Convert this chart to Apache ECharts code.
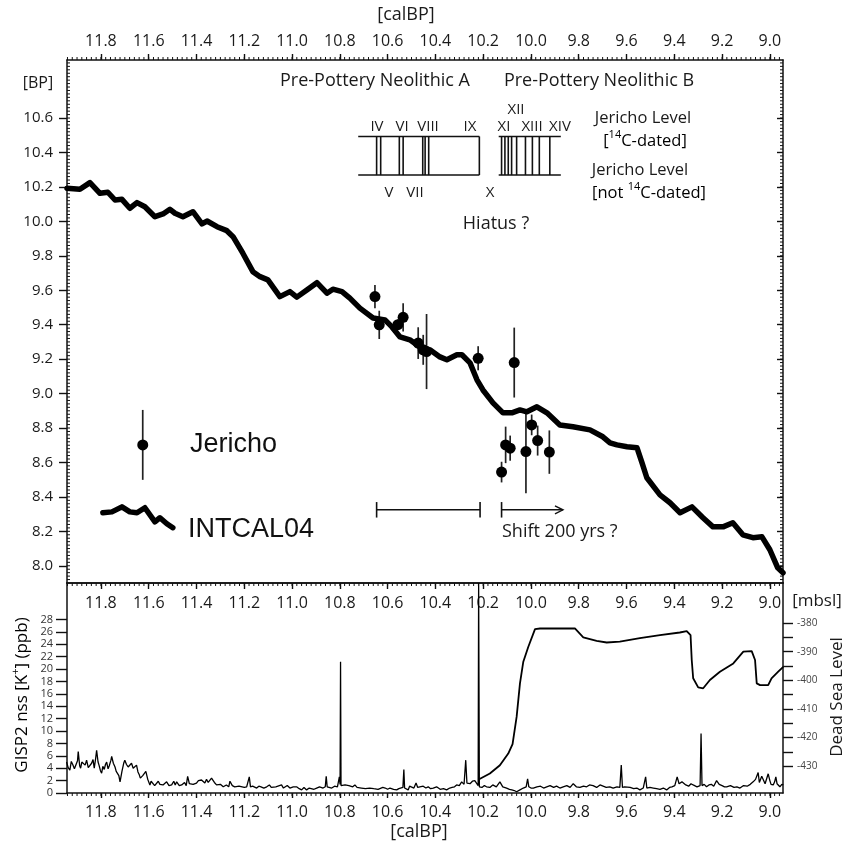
<!DOCTYPE html>
<html><head><meta charset="utf-8">
<script src="https://cdn.jsdelivr.net/npm/echarts@6/dist/echarts.min.js"></script>
<style>html,body{margin:0;padding:0;background:#fff}#c{width:850px;height:845px}</style>
</head><body><div id="c"></div>
<script>
// ---------------- data ----------------
const calTicks = [9.0, 9.2, 9.4, 9.6, 9.8, 10.0, 10.2, 10.4, 10.6, 10.8, 11.0, 11.2, 11.4, 11.6, 11.8];
const bpTicks = [8.0, 8.2, 8.4, 8.6, 8.8, 9.0, 9.2, 9.4, 9.6, 9.8, 10.0, 10.2, 10.4, 10.6];
const kTicks = [0, 2, 4, 6, 8, 10, 12, 14, 16, 18, 20, 22, 24, 26, 28];
const dsTicks = [-430, -420, -410, -400, -390, -380];
const dsMinorTicks = [-430, -425, -420, -415, -410, -405, -400, -395, -390, -385, -380];

// INTCAL04 calibration curve [calBP (ka), BP (ka)]
const intcal04 = [[11.942,10.192],[11.888,10.186],[11.846,10.225],[11.804,10.163],[11.771,10.169],[11.741,10.124],[11.712,10.128],[11.679,10.076],[11.649,10.109],[11.616,10.085],[11.574,10.027],[11.540,10.043],[11.511,10.070],[11.490,10.047],[11.457,10.027],[11.415,10.056],[11.377,9.985],[11.356,10.002],[11.314,9.969],[11.273,9.946],[11.247,9.911],[11.206,9.815],[11.164,9.708],[11.134,9.679],[11.101,9.660],[11.051,9.563],[11.009,9.592],[10.980,9.560],[10.938,9.602],[10.896,9.644],[10.854,9.583],[10.829,9.606],[10.791,9.592],[10.758,9.554],[10.716,9.496],[10.661,9.439],[10.611,9.428],[10.582,9.387],[10.548,9.329],[10.507,9.312],[10.465,9.271],[10.423,9.254],[10.381,9.213],[10.352,9.196],[10.310,9.225],[10.289,9.225],[10.255,9.178],[10.226,9.080],[10.201,9.021],[10.159,8.946],[10.117,8.888],[10.080,8.888],[10.046,8.905],[10.017,8.894],[9.975,8.923],[9.933,8.888],[9.879,8.818],[9.824,8.807],[9.753,8.789],[9.699,8.749],[9.669,8.714],[9.640,8.702],[9.598,8.691],[9.556,8.685],[9.535,8.598],[9.515,8.511],[9.460,8.412],[9.418,8.366],[9.376,8.308],[9.326,8.342],[9.280,8.279],[9.238,8.226],[9.196,8.226],[9.155,8.250],[9.113,8.180],[9.071,8.163],[9.033,8.168],[9.000,8.093],[8.967,7.988],[8.945,7.959]];

// Jericho 14C dates [calBP, BP, error]
const jericho = [[10.653,9.563,0.068],[10.635,9.399,0.082],[10.557,9.400,0.030],[10.535,9.443,0.082],[10.472,9.293,0.092],[10.451,9.254,0.087],[10.437,9.244,0.218],[10.221,9.205,0.070],[10.070,9.180,0.203],[10.123,8.544,0.060],[10.106,8.702,0.106],[10.087,8.683,0.073],[10.021,8.663,0.242],[9.997,8.818,0.060],[9.972,8.727,0.087],[9.923,8.660,0.126]];

// legend samples
const legendPoint = [[11.625, 8.702, 0.203]];
const legendCurve = [[11.792,8.308],[11.754,8.313],[11.712,8.342],[11.679,8.313],[11.649,8.308],[11.616,8.337],[11.574,8.255],[11.553,8.279],[11.524,8.244],[11.499,8.221]];

// Jericho levels (calBP positions of level boundaries)
const levelsA = [10.646, 10.629, 10.551, 10.535, 10.453, 10.443, 10.428, 10.216];
const levelsB = [10.123, 10.109, 10.095, 10.081, 10.060, 10.023, 9.994, 9.965, 9.921];
const boxA = [10.723, 10.216];
const boxB = [10.135, 9.875];
const levelBand = [10.269, 10.493];
const rangeBar = [10.646, 10.213];
const shiftArrow = [10.123, 9.866];
const barLevel = 8.325;

// GISP2 nss K+ (ppb)
const gisp2 = [[11.944,5.0],[11.937,4.1],[11.930,3.7],[11.924,5.1],[11.918,4.6],[11.911,3.9],[11.905,4.2],[11.898,5.2],[11.895,6.7],[11.889,4.4],[11.885,4.0],[11.880,5.0],[11.875,4.8],[11.866,4.5],[11.860,5.3],[11.853,4.1],[11.848,4.3],[11.839,4.8],[11.833,5.4],[11.828,4.0],[11.822,5.6],[11.818,6.9],[11.812,5.0],[11.808,4.5],[11.802,3.6],[11.797,3.2],[11.792,4.3],[11.786,3.8],[11.781,4.6],[11.776,5.0],[11.770,3.9],[11.765,4.4],[11.758,5.3],[11.755,5.9],[11.748,4.8],[11.741,4.2],[11.736,3.5],[11.730,3.3],[11.725,2.8],[11.720,1.8],[11.712,3.5],[11.704,4.9],[11.700,5.3],[11.693,4.6],[11.686,4.2],[11.679,3.9],[11.672,4.8],[11.665,4.0],[11.658,3.7],[11.651,4.5],[11.645,3.4],[11.640,3.0],[11.635,2.4],[11.630,2.1],[11.625,2.8],[11.620,2.6],[11.612,3.5],[11.604,2.2],[11.595,1.3],[11.590,1.9],[11.585,1.6],[11.575,1.2],[11.567,1.0],[11.560,1.9],[11.553,1.4],[11.547,1.1],[11.540,1.3],[11.532,1.5],[11.525,1.8],[11.515,1.2],[11.504,1.3],[11.495,1.9],[11.489,1.3],[11.483,1.8],[11.472,1.2],[11.462,1.3],[11.450,1.7],[11.443,1.2],[11.437,2.7],[11.430,1.5],[11.422,1.2],[11.414,1.4],[11.400,1.6],[11.392,2.0],[11.386,1.8],[11.379,2.1],[11.372,2.0],[11.365,1.6],[11.358,2.2],[11.351,1.7],[11.345,1.8],[11.337,2.4],[11.325,1.7],[11.316,1.3],[11.308,1.1],[11.300,1.4],[11.288,1.0],[11.275,1.3],[11.265,1.0],[11.260,1.9],[11.250,1.2],[11.240,1.0],[11.232,0.8],[11.222,1.1],[11.215,1.0],[11.200,0.9],[11.190,1.0],[11.183,1.1],[11.179,2.6],[11.174,1.0],[11.165,1.1],[11.148,0.8],[11.139,1.1],[11.130,1.0],[11.118,0.8],[11.106,1.0],[11.095,1.3],[11.087,0.9],[11.079,0.8],[11.068,1.0],[11.060,1.3],[11.044,1.3],[11.036,0.8],[11.030,1.0],[11.020,1.2],[11.009,0.8],[10.995,1.0],[10.981,1.0],[10.970,0.7],[10.960,0.5],[10.950,0.9],[10.939,0.5],[10.928,0.8],[10.920,0.9],[10.908,0.6],[10.897,0.8],[10.885,1.0],[10.870,0.8],[10.861,1.0],[10.857,2.7],[10.853,1.0],[10.845,0.8],[10.834,0.8],[10.822,1.1],[10.810,1.0],[10.804,1.3],[10.802,2.6],[10.799,1.4],[10.797,21.2],[10.795,1.2],[10.787,1.1],[10.778,1.3],[10.771,1.0],[10.762,1.2],[10.755,1.3],[10.746,1.0],[10.737,1.3],[10.728,0.9],[10.720,1.0],[10.710,0.8],[10.702,1.0],[10.693,0.7],[10.685,0.6],[10.675,0.8],[10.667,0.5],[10.658,0.7],[10.650,0.8],[10.640,0.6],[10.632,0.8],[10.620,0.9],[10.610,0.8],[10.600,0.6],[10.590,0.8],[10.582,0.9],[10.575,0.6],[10.568,0.8],[10.562,0.5],[10.553,0.7],[10.545,0.6],[10.536,0.9],[10.532,3.8],[10.529,0.8],[10.524,0.6],[10.514,0.5],[10.508,1.1],[10.500,1.0],[10.490,0.8],[10.481,1.6],[10.474,0.9],[10.465,1.0],[10.458,1.2],[10.451,1.1],[10.440,0.8],[10.430,1.0],[10.420,0.7],[10.409,0.8],[10.395,1.0],[10.380,0.6],[10.366,0.7],[10.353,0.5],[10.340,0.8],[10.330,0.9],[10.320,1.0],[10.311,1.3],[10.300,1.2],[10.290,1.8],[10.280,1.4],[10.273,5.3],[10.268,1.6],[10.261,1.3],[10.255,1.5],[10.245,1.9],[10.235,2.0],[10.228,1.6],[10.221,1.2],[10.219,33.9],[10.216,1.0],[10.205,0.9],[10.195,1.2],[10.186,1.0],[10.172,0.9],[10.160,1.3],[10.145,1.0],[10.130,1.8],[10.118,1.0],[10.102,0.8],[10.090,0.6],[10.080,0.5],[10.070,0.4],[10.060,0.2],[10.046,0.5],[10.032,0.8],[10.020,1.0],[10.014,2.3],[10.009,1.0],[10.000,0.8],[9.990,0.8],[9.975,1.0],[9.960,1.1],[9.947,0.8],[9.934,1.0],[9.920,1.2],[9.905,0.9],[9.893,1.1],[9.879,0.8],[9.865,1.0],[9.850,1.2],[9.836,0.9],[9.823,1.5],[9.810,1.0],[9.795,0.9],[9.780,1.1],[9.767,1.0],[9.755,1.3],[9.740,1.2],[9.725,0.9],[9.711,1.3],[9.698,1.1],[9.685,0.9],[9.670,1.0],[9.656,0.8],[9.640,1.0],[9.628,0.9],[9.622,4.5],[9.617,0.9],[9.608,1.0],[9.600,0.8],[9.585,0.9],[9.570,0.7],[9.557,0.8],[9.544,0.5],[9.530,0.8],[9.523,1.0],[9.520,2.6],[9.515,0.8],[9.502,0.9],[9.488,0.8],[9.474,0.7],[9.460,0.6],[9.446,0.8],[9.432,0.5],[9.420,0.9],[9.410,1.0],[9.398,1.2],[9.388,2.6],[9.380,1.5],[9.375,1.4],[9.368,1.8],[9.363,2.0],[9.352,1.3],[9.340,1.1],[9.330,1.5],[9.321,1.3],[9.305,1.0],[9.292,1.2],[9.288,9.6],[9.284,1.2],[9.275,1.4],[9.265,1.0],[9.255,1.3],[9.245,1.4],[9.235,1.1],[9.223,2.0],[9.212,1.4],[9.200,1.2],[9.190,1.0],[9.181,1.0],[9.165,1.2],[9.150,0.9],[9.138,1.0],[9.125,0.8],[9.110,1.2],[9.095,1.1],[9.082,1.4],[9.070,1.8],[9.060,2.2],[9.049,3.3],[9.044,1.7],[9.040,1.9],[9.034,2.7],[9.028,2.6],[9.020,1.5],[9.015,1.6],[9.007,3.1],[9.000,2.0],[8.995,1.4],[8.986,1.3],[8.980,1.8],[8.975,2.6],[8.970,1.5],[8.965,1.2],[8.958,1.0],[8.950,1.4],[8.944,1.3]];

// Dead Sea level (m below sea level)
const deadSea = [[10.219,-434.7],[10.172,-432.6],[10.130,-429.7],[10.095,-425.6],[10.077,-422.3],[10.060,-412.8],[10.046,-401.1],[10.032,-393.5],[10.011,-388.3],[9.983,-382.1],[9.962,-381.9],[9.816,-381.9],[9.781,-385.0],[9.725,-386.2],[9.683,-386.8],[9.628,-386.5],[9.544,-385.3],[9.460,-384.2],[9.377,-383.3],[9.348,-382.8],[9.332,-384.2],[9.327,-392.9],[9.321,-399.3],[9.300,-402.5],[9.279,-402.8],[9.251,-399.9],[9.209,-397.0],[9.153,-394.1],[9.111,-390.0],[9.076,-389.8],[9.062,-392.9],[9.055,-401.1],[9.041,-401.7],[9.007,-401.7],[8.993,-399.3],[8.965,-397.0],[8.944,-395.3]];

// ---------------- chart ----------------
const X_MIN = 8.945, X_MAX = 11.942;
function range(a, b, s) { const r = []; for (let i = 0; a + i * s <= b + 1e-9; i++) r.push(Math.round((a + i * s) * 1000) / 1000); return r; }
const xMinor = range(8.96, 11.94, 0.02);
const yMinorUp = range(7.92, 10.92, 0.02);

const TICK = '#111';
const FONT = '"Open Sans", "Noto Sans", sans-serif';
const AL = { show: true, onZero: false, lineStyle: { color: '#111', width: 1.5 } };
const fmt1 = v => Number(v).toFixed(1);
const Y_UP = [7.90, 10.937];
const Y_K = [0, 33.9];
const Y_DS = [-439.4, -366];

function xAx(o) {
  return Object.assign({ type: 'value', min: X_MIN, max: X_MAX, inverse: true, splitLine: { show: false },
    axisLine: AL, axisLabel: { show: false } }, o);
}
function yAx(o) { return Object.assign({ type: 'value', splitLine: { show: false }, axisLine: AL, axisLabel: { show: false } }, o); }
function majTick(vals, len, inside) { return { show: true, customValues: vals, length: len, inside: !!inside, lineStyle: { color: TICK, width: 1.4 } }; }

// minor tick rows [x, y, dxPx, dyPx]
const minorUpper = [], minorLower = [];
xMinor.forEach(v => minorUpper.push([v, Y_UP[1], 0, -3]));
yMinorUp.forEach(v => { minorUpper.push([X_MAX, v, 3, 0]); minorUpper.push([X_MIN, v, -3, 0]); });
xMinor.forEach(v => { minorLower.push([v, Y_K[1], 0, 3]); minorLower.push([v, Y_K[0], 0, 3]); });
function tickSeries(rows, xi, yi) {
  return {
    type: 'custom', xAxisIndex: xi, yAxisIndex: yi, silent: true, data: rows,
    renderItem: function (p, api) {
      const a = api.coord([api.value(0), api.value(1)]);
      return { type: 'line', shape: { x1: a[0], y1: a[1], x2: a[0] + api.value(2), y2: a[1] + api.value(3) }, style: { stroke: TICK, lineWidth: 1 } };
    }
  };
}

// annotation segments [x1,y1,x2,y2]
const segs = [];
segs.push([boxA[0], levelBand[1], boxA[1], levelBand[1]]);
segs.push([boxA[0], levelBand[0], boxA[1], levelBand[0]]);
levelsA.forEach(v => segs.push([v, levelBand[0], v, levelBand[1]]));
segs.push([boxB[0], levelBand[1], boxB[1], levelBand[1]]);
segs.push([boxB[0], levelBand[0], boxB[1], levelBand[0]]);
levelsB.forEach(v => segs.push([v, levelBand[0], v, levelBand[1]]));
segs.push([rangeBar[0], barLevel, rangeBar[1], barLevel]);
segs.push([rangeBar[0], barLevel - 0.045, rangeBar[0], barLevel + 0.045]);
segs.push([rangeBar[1], barLevel - 0.045, rangeBar[1], barLevel + 0.045]);
segs.push([shiftArrow[0], barLevel - 0.045, shiftArrow[0], barLevel + 0.045]);

function errSeries(src) {
  return {
    type: 'custom', xAxisIndex: 0, yAxisIndex: 0, silent: true,
    data: src.map(d => [d[0], d[1] - d[2], d[1] + d[2]]),
    renderItem: (p, api) => {
      const a = api.coord([api.value(0), api.value(1)]);
      const b = api.coord([api.value(0), api.value(2)]);
      return { type: 'line', shape: { x1: a[0], y1: a[1], x2: b[0], y2: b[1] }, style: { stroke: '#222', lineWidth: 1.7 } };
    }
  };
}

function T(x, y, text, size, extra) {
  return Object.assign({
    type: 'text', x: x, y: y, silent: true,
    style: Object.assign({ text: text, font: size + 'px ' + FONT, fill: '#1a1a1a', align: 'center', verticalAlign: 'middle', textAlign: 'center', textVerticalAlign: 'middle' }, (extra && extra.style) || {})
  }, extra && extra.rotation !== undefined ? { rotation: extra.rotation } : {});
}
const supRich = (size) => ({
  n: { fontSize: size, fontFamily: FONT, color: '#1a1a1a' },
  s: { fontSize: Math.round(size * 0.66), fontFamily: FONT, color: '#1a1a1a', padding: [0, 0, Math.round(size * 0.7), 0] }
});
function R(x, y, text, size, rot) {
  const o = { type: 'text', x: x, y: y, silent: true, style: { text: text, rich: supRich(size), align: 'center', verticalAlign: 'middle', textAlign: 'center', textVerticalAlign: 'middle' } };
  if (rot !== undefined) o.rotation = rot;
  return o;
}
const BIG = '27px "Liberation Sans", Arial, sans-serif';
const lab = (vals, extra) => Object.assign({ show: true, customValues: vals, color: '#1a1a1a', fontFamily: FONT }, extra);

const option = {
  animation: false,
  backgroundColor: '#fff',
  grid: [
    { left: 67, right: 67, top: 60, height: 523 },
    { left: 67, right: 67, top: 583, height: 210 }
  ],
  xAxis: [
    xAx({ gridIndex: 0, position: 'top', axisTick: majTick(calTicks, 6), axisLabel: lab(calTicks, { formatter: fmt1, margin: 11, fontSize: 16 }) }),
    xAx({ gridIndex: 0, position: 'bottom', axisTick: { show: false } }),
    xAx({ gridIndex: 1, position: 'top', axisTick: majTick(calTicks, 6, true), axisLabel: lab(calTicks, { inside: true, formatter: fmt1, margin: 12, fontSize: 16 }) }),
    xAx({ gridIndex: 1, position: 'bottom', axisTick: majTick(calTicks, 5), axisLabel: lab(calTicks, { formatter: fmt1, margin: 11, fontSize: 16 }) })
  ],
  yAxis: [
    yAx({ gridIndex: 0, position: 'left', min: Y_UP[0], max: Y_UP[1], axisTick: majTick(bpTicks, 8), axisLabel: lab(bpTicks, { formatter: fmt1, margin: 14, fontSize: 15 }) }),
    yAx({ gridIndex: 0, position: 'right', min: Y_UP[0], max: Y_UP[1], axisTick: majTick(bpTicks, 6, true) }),
    yAx({ gridIndex: 1, position: 'left', min: Y_K[0], max: Y_K[1], axisTick: majTick(kTicks, 11), axisLabel: lab(kTicks, { margin: 14, fontSize: 11, color: '#333' }) }),
    yAx({ gridIndex: 1, position: 'right', min: Y_DS[0], max: Y_DS[1], axisTick: majTick(dsMinorTicks, 10), axisLabel: lab(dsTicks, { margin: 14, fontSize: 10, color: '#444' }) })
  ],
  series: [
    { type: 'line', name: 'INTCAL04', xAxisIndex: 0, yAxisIndex: 0, data: intcal04, showSymbol: false, symbol: 'none',
      lineStyle: { color: '#000', width: 5.5, join: 'round', cap: 'round' } },
    { type: 'line', name: 'legendCurve', xAxisIndex: 0, yAxisIndex: 0, data: legendCurve, showSymbol: false, symbol: 'none',
      lineStyle: { color: '#000', width: 5.5, join: 'round', cap: 'round' } },
    errSeries(jericho),
    errSeries(legendPoint),
    { type: 'scatter', name: 'Jericho', xAxisIndex: 0, yAxisIndex: 0, z: 4, symbolSize: 11,
      data: jericho.map(d => [d[0], d[1]]), itemStyle: { color: '#000', opacity: 1 } },
    { type: 'scatter', name: 'legendPoint', xAxisIndex: 0, yAxisIndex: 0, z: 4, symbolSize: 11,
      data: legendPoint.map(d => [d[0], d[1]]), itemStyle: { color: '#000', opacity: 1 } },
    { type: 'custom', name: 'annotations', xAxisIndex: 0, yAxisIndex: 0, silent: true, data: segs,
      renderItem: (p, api) => {
        const a = api.coord([api.value(0), api.value(1)]);
        const b = api.coord([api.value(2), api.value(3)]);
        return { type: 'line', shape: { x1: a[0], y1: a[1], x2: b[0], y2: b[1] }, style: { stroke: '#111', lineWidth: 1.6 } };
      } },
    { type: 'custom', name: 'arrow', xAxisIndex: 0, yAxisIndex: 0, silent: true, data: [[shiftArrow[0], barLevel, shiftArrow[1], barLevel]],
      renderItem: (p, api) => {
        const a = api.coord([api.value(0), api.value(1)]);
        const b = api.coord([api.value(2), api.value(3)]);
        return { type: 'group', children: [
          { type: 'line', shape: { x1: a[0], y1: a[1], x2: b[0], y2: b[1] }, style: { stroke: '#111', lineWidth: 1.6 } },
          { type: 'polyline', shape: { points: [[b[0] - 8, b[1] - 4], [b[0], b[1]], [b[0] - 8, b[1] + 4]] }, style: { stroke: '#111', lineWidth: 1.4, fill: null } }
        ] };
      } },
    { type: 'line', name: 'GISP2', xAxisIndex: 3, yAxisIndex: 2, data: gisp2, showSymbol: false, symbol: 'none',
      lineStyle: { color: '#000', width: 1.3 } },
    { type: 'line', name: 'DeadSea', xAxisIndex: 3, yAxisIndex: 3, data: deadSea, showSymbol: false, symbol: 'none',
      lineStyle: { color: '#000', width: 1.8 } },
    tickSeries(minorUpper, 0, 0),
    tickSeries(minorLower, 3, 2)
  ],
  graphic: [
    T(406, 15, '[calBP]', 18),
    T(38, 83, '[BP]', 16),
    T(375, 81, 'Pre-Pottery Neolithic A', 18),
    T(599, 81, 'Pre-Pottery Neolithic B', 18),
    T(377, 127, 'IV', 15), T(402, 127, 'VI', 15), T(428, 127, 'VIII', 15), T(470, 127, 'IX', 15),
    T(504, 127, 'XI', 15), T(516, 110, 'XII', 15), T(532, 127, 'XIII', 15), T(560, 127, 'XIV', 15),
    T(389, 193, 'V', 15), T(415, 193, 'VII', 15), T(490, 193, 'X', 15),
    T(643, 118, 'Jericho Level', 16.5),
    R(645, 141, '{n|[}{s|14}{n|C-dated]}', 16.5),
    T(640, 170, 'Jericho Level', 16.5),
    R(649, 193, '{n|[not }{s|14}{n|C-dated]}', 16.5),
    T(496, 224, 'Hiatus ?', 18),
    T(190, 445, 'Jericho', 27, { style: { font: BIG, align: 'left', textAlign: 'left', fill: '#111' } }),
    T(188, 530, 'INTCAL04', 27, { style: { font: BIG, align: 'left', textAlign: 'left', fill: '#111' } }),
    T(502, 532, 'Shift 200 yrs ?', 18, { style: { align: 'left', textAlign: 'left' } }),
    T(817, 601, '[mbsl]', 17),
    T(837, 697, 'Dead Sea Level', 17, { rotation: Math.PI / 2 }),
    R(22, 695, '{n|GISP2 nss [K}{s|+}{n|] (ppb)}', 17, Math.PI / 2),
    T(419, 832, '[calBP]', 18)
  ]
};

const chart = echarts.init(document.getElementById('c'), null, { renderer: 'canvas' });
chart.setOption(option);
</script>
</body></html>
